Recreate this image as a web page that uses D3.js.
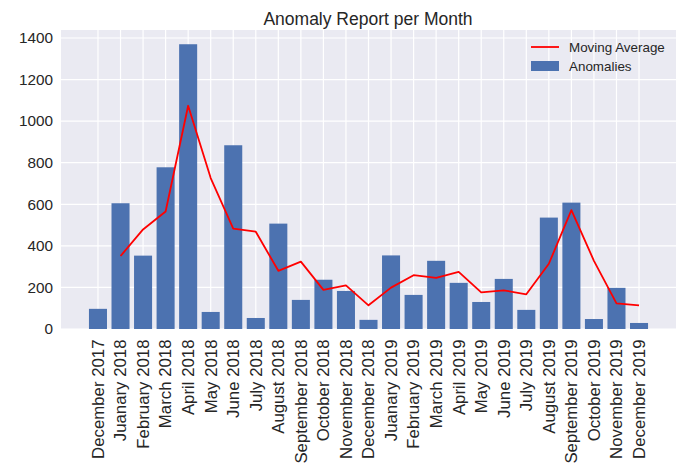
<!DOCTYPE html>
<html>
<head>
<meta charset="utf-8">
<script src="https://cdn.jsdelivr.net/npm/d3@7"></script>
<style>
  body { margin: 0; background: #fff; }
  svg { display: block; font-family: "Liberation Sans", Arial, sans-serif; }
</style>
</head>
<body>
<svg id="chart" width="678" height="467"></svg>
<script>
const months = ["December 2017","Juanary 2018","February 2018","March 2018","April 2018","May 2018","June 2018","July 2018","August 2018","September 2018","October 2018","November 2018","December 2018","Juanary 2019","February 2019","March 2019","April 2019","May 2019","June 2019","July 2019","August 2019","September 2019","October 2019","November 2019","December 2019"];
const anomalies = [97,605,353,778,1370,82,884,53,507,140,237,183,44,354,164,328,222,130,241,92,536,608,48,198,29];
const movingAvgMonths = months.slice(1);
const movingAvg = [351,479,565,1074,726,483,468,280,324,188,210,114,199,259,246,275,176,186,167,314,572,328,123,114];
const yTicks = [0,200,400,600,800,1000,1200,1400];

const svg = d3.select("#chart");
const L = 61, R = 676, T = 30, B = 329;
const textColor = "#262626";

const n = months.length;
const x = d3.scaleLinear().domain([-1.64, n - 1 + 1.64]).range([L, R]);
const y = d3.scaleLinear().domain([0, 1438.5]).range([B, T]);
const barW = x(0.8) - x(0);

svg.append("text").attr("x", 368).attr("y", 25).attr("text-anchor", "middle")
  .attr("font-size", 17.5).attr("fill", textColor).text("Anomaly Report per Month");

svg.append("rect").attr("x", L).attr("y", T).attr("width", R - L).attr("height", B - T).attr("fill", "#EAEAF2");

svg.append("g").selectAll("line").data(yTicks).join("line")
  .attr("x1", L).attr("x2", R).attr("y1", d => y(d)).attr("y2", d => y(d))
  .attr("stroke", "#fff").attr("stroke-width", 1.2);
svg.append("g").selectAll("line").data(months).join("line")
  .attr("x1", (d, i) => x(i)).attr("x2", (d, i) => x(i)).attr("y1", T).attr("y2", B)
  .attr("stroke", "#fff").attr("stroke-width", 1.2);

svg.append("g").selectAll("rect").data(anomalies).join("rect")
  .attr("x", (d, i) => x(i) - barW / 2).attr("width", barW)
  .attr("y", d => y(d)).attr("height", d => B - y(d)).attr("fill", "#4C72B0");

const line = d3.line().x((d, i) => x(i + 1)).y(d => y(d));
svg.append("path").datum(movingAvg).attr("d", line).attr("fill", "none")
  .attr("stroke", "red").attr("stroke-width", 1.8).attr("stroke-linejoin", "round");

svg.append("g").selectAll("text").data(yTicks).join("text")
  .attr("x", 53).attr("y", d => y(d)).attr("dy", "0.35em").attr("text-anchor", "end")
  .attr("font-size", 15.3).attr("fill", textColor).text(d => d);

svg.append("g").selectAll("text").data(months).join("text")
  .attr("transform", (d, i) => `translate(${x(i)},339.5) rotate(-90)`)
  .attr("dy", "0.35em").attr("text-anchor", "end")
  .attr("font-size", 16.8).attr("fill", textColor).text(d => d);

const lg = svg.append("g");
lg.append("line").attr("x1", 531).attr("x2", 559).attr("y1", 47).attr("y2", 47)
  .attr("stroke", "red").attr("stroke-width", 1.8);
lg.append("text").attr("x", 569).attr("y", 47).attr("dy", "0.35em").attr("font-size", 13.4)
  .attr("fill", textColor).text("Moving Average");
lg.append("rect").attr("x", 531).attr("y", 61).attr("width", 28).attr("height", 10).attr("fill", "#4C72B0");
lg.append("text").attr("x", 569).attr("y", 66).attr("dy", "0.35em").attr("font-size", 13.4)
  .attr("fill", textColor).text("Anomalies");
</script>
</body>
</html>
